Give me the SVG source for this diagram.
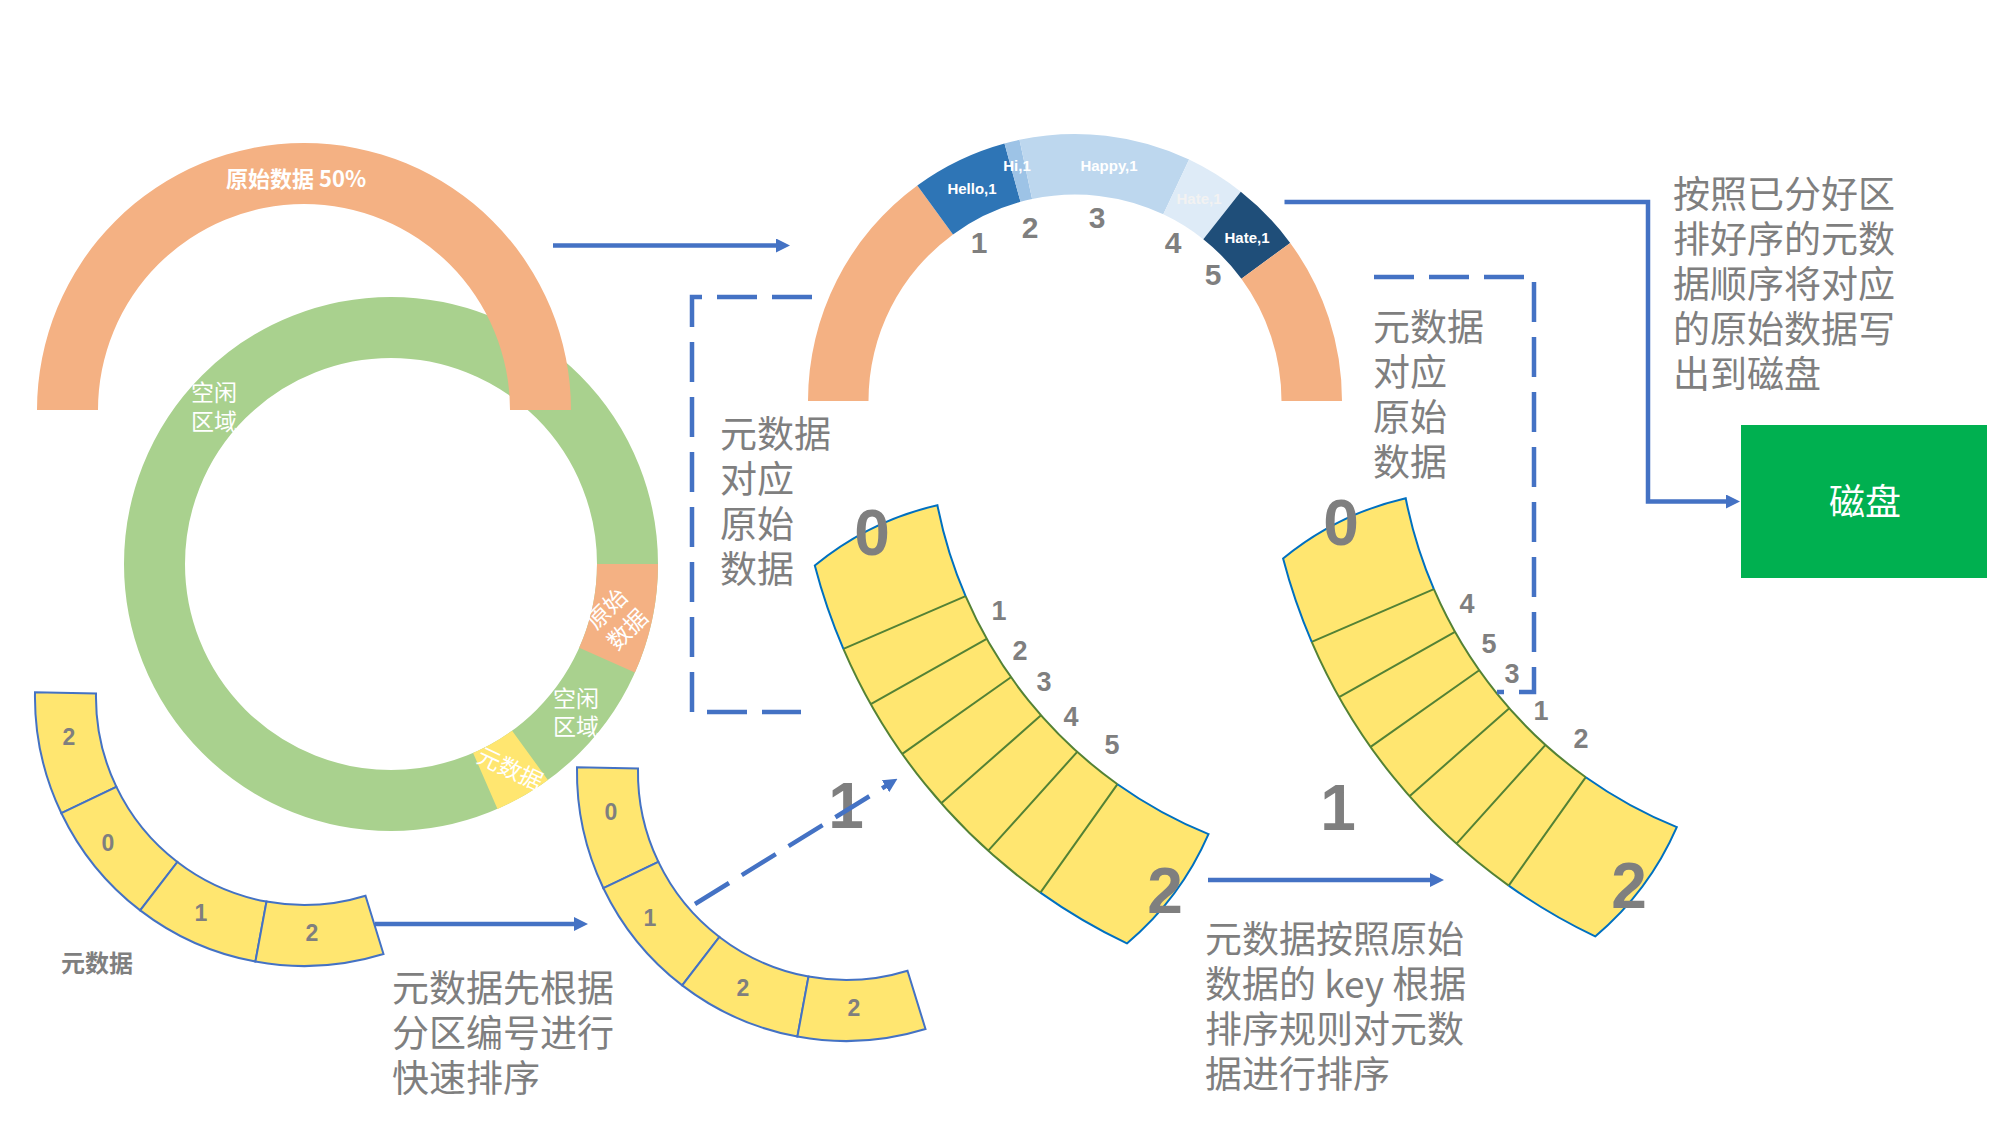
<svg xmlns="http://www.w3.org/2000/svg" width="1999" height="1126" viewBox="0 0 1999 1126">
<defs>
<style>
.note{font-family:"Noto Sans CJK SC","Noto Sans",sans-serif;font-size:37px;fill:#7F7F7F}
.wl{font-family:"Noto Sans CJK SC","Noto Sans",sans-serif;fill:#FFFFFF}
.num{font-family:"Liberation Sans",Arial,sans-serif;font-weight:bold;fill:#7F7F7F;text-anchor:middle}
.big{font-size:64px}
.mid{font-size:27px}
.sm{font-size:23px}
.top{font-size:30px}
.lbl{font-family:"Liberation Sans",Arial,sans-serif;font-weight:bold;font-size:15px;fill:#FFFFFF;text-anchor:middle}
.conn{fill:none;stroke:#4472C4;stroke-width:4.5}
.dash{stroke-dasharray:40 15}
.cell{fill:#FFE670;stroke:#4472C4;stroke-width:2}
.yfill{fill:#FFE670}
.bl{fill:none;stroke:#0070C0;stroke-width:2}
.gl{fill:none;stroke:#548235;stroke-width:2}
</style>
<marker id="ah" markerUnits="userSpaceOnUse" markerWidth="14" markerHeight="14" refX="1" refY="7" orient="auto">
<path d="M0,0 L14,7 L0,14 z" fill="#4472C4"/>
</marker>
</defs>
<rect x="0" y="0" width="1999" height="1126" fill="#FFFFFF"/>

<g id="buffer-ring">
<circle cx="391" cy="564" r="236.5" fill="none" stroke="#A9D18E" stroke-width="61"/>
<path d="M 658 564 A 267 267 0 0 1 634.9 672.6 L 579.2 647.8 A 206 206 0 0 0 597 564 Z" fill="#F4B183"/>
<path d="M 547.9 780 A 267 267 0 0 1 497.5 808.9 L 473.1 752.9 A 206 206 0 0 0 512.1 730.7 Z" fill="#FFE670"/>
<text class="wl" font-size="23"><tspan x="191" y="401">空闲</tspan><tspan x="191" y="430">区域</tspan></text>
<text class="wl" font-size="23"><tspan x="553" y="707">空闲</tspan><tspan x="553" y="735">区域</tspan></text>
<text class="wl" font-size="23" text-anchor="middle" transform="translate(617,619) rotate(-45)"><tspan x="0" y="-6">原始</tspan><tspan x="0" y="23">数据</tspan></text>
<text class="wl" font-size="23" text-anchor="middle" transform="translate(510,769) rotate(25)" y="8">元数据</text>
</g>

<g id="raw-data-arc">
<path d="M 37 410 A 267 267 0 0 1 571 410 L 510 410 A 206 206 0 0 0 98 410 Z" fill="#F4B183"/>
<text class="wl" font-size="22" font-weight="bold" text-anchor="middle" x="296" y="187">原始数据 50%</text>
</g>

<g id="kv-arc">
<path d="M 808 401 A 267 267 0 0 1 917.3 185.5 L 953.0 234.4 A 206.5 206.5 0 0 0 868.5 401 Z" fill="#F4B183"/>
<path d="M 917.3 185.5 A 267 267 0 0 1 1004.5 143.5 L 1020.5 201.8 A 206.5 206.5 0 0 0 953.0 234.4 Z" fill="#2E75B6"/>
<path d="M 1004.5 143.5 A 267 267 0 0 1 1019.5 139.8 L 1032.1 199.0 A 206.5 206.5 0 0 0 1020.5 201.8 Z" fill="#9DC3E6"/>
<path d="M 1019.5 139.8 A 267 267 0 0 1 1189.1 159.6 L 1163.3 214.3 A 206.5 206.5 0 0 0 1032.1 199.0 Z" fill="#BDD7EE"/>
<path d="M 1189.1 159.6 A 267 267 0 0 1 1240.8 191.8 L 1203.3 239.2 A 206.5 206.5 0 0 0 1163.3 214.3 Z" fill="#DEEBF7"/>
<path d="M 1240.8 191.8 A 267 267 0 0 1 1290.2 242.9 L 1241.4 278.8 A 206.5 206.5 0 0 0 1203.3 239.2 Z" fill="#1F4E79"/>
<path d="M 1290.2 242.9 A 267 267 0 0 1 1342 401 L 1281.5 401 A 206.5 206.5 0 0 0 1241.4 278.8 Z" fill="#F4B183"/>
<text class="lbl" x="972" y="194">Hello,1</text>
<text class="lbl" x="1017" y="171">Hi,1</text>
<text class="lbl" x="1109" y="171">Happy,1</text>
<text class="lbl" x="1199" y="204" fill="#F2F2F2" style="fill:#F2F2F2">Hate,1</text>
<text class="lbl" x="1247" y="243">Hate,1</text>
<text class="num top" x="979" y="253">1</text>
<text class="num top" x="1030" y="238">2</text>
<text class="num top" x="1097" y="228">3</text>
<text class="num top" x="1173" y="253">4</text>
<text class="num top" x="1213" y="285">5</text>
</g>

<g id="meta-arc-1">
<path class="cell" d="M 35.0 692.3 A 269 269 0 0 0 61.4 813.2 L 116.4 786.9 A 208 208 0 0 1 96.0 693.4 Z"/>
<path class="cell" d="M 61.4 813.2 A 269 269 0 0 0 140.2 910.4 L 177.4 862.0 A 208 208 0 0 1 116.4 786.9 Z"/>
<path class="cell" d="M 140.2 910.4 A 269 269 0 0 0 255.4 961.6 L 266.5 901.6 A 208 208 0 0 1 177.4 862.0 Z"/>
<path class="cell" d="M 255.4 961.6 A 269 269 0 0 0 383.5 954.0 L 365.5 895.7 A 208 208 0 0 1 266.5 901.6 Z"/>
<text class="num sm" x="69" y="745">2</text>
<text class="num sm" x="108" y="851">0</text>
<text class="num sm" x="201" y="921">1</text>
<text class="num sm" x="312" y="941">2</text>
<text x="97" y="972" font-family="Noto Sans CJK SC, sans-serif" font-size="24" font-weight="bold" fill="#7F7F7F" text-anchor="middle">元数据</text>
</g>

<g id="meta-arc-2" transform="translate(542,75)">
<path class="cell" d="M 35.0 692.3 A 269 269 0 0 0 61.4 813.2 L 116.4 786.9 A 208 208 0 0 1 96.0 693.4 Z"/>
<path class="cell" d="M 61.4 813.2 A 269 269 0 0 0 140.2 910.4 L 177.4 862.0 A 208 208 0 0 1 116.4 786.9 Z"/>
<path class="cell" d="M 140.2 910.4 A 269 269 0 0 0 255.4 961.6 L 266.5 901.6 A 208 208 0 0 1 177.4 862.0 Z"/>
<path class="cell" d="M 255.4 961.6 A 269 269 0 0 0 383.5 954.0 L 365.5 895.7 A 208 208 0 0 1 266.5 901.6 Z"/>
<text class="num sm" x="69" y="745">0</text>
<text class="num sm" x="108" y="851">1</text>
<text class="num sm" x="201" y="921">2</text>
<text class="num sm" x="312" y="941">2</text>
</g>

<g id="sorted-arc-1">
<path class="yfill" d="M 814.8 565.5 Q 869 521 937.4 505.2 A 448 448 0 0 0 1208.5 834.1 Q 1180.5 898.3 1126.9 943.4 A 581 581 0 0 1 814.8 565.5 Z"/>
<path class="gl" d="M 965.6 596.2 A 448 448 0 0 0 1117.5 784.2 M 843.4 648.8 A 581 581 0 0 0 1040.4 892.6 M 843.4 648.8 L 965.6 596.2 M 870.8 704.2 L 986.7 638.9 M 902.3 753.9 L 1010.9 677.2 M 941.2 803.2 L 1041 715.3 M 988.3 850.7 L 1077.2 751.9 M 1040.4 892.6 L 1117.5 784.2"/>
<path class="bl" d="M 843.4 648.8 A 581 581 0 0 1 814.8 565.5 Q 869 521 937.4 505.2 A 448 448 0 0 0 965.6 596.2"/>
<path class="bl" d="M 1117.5 784.2 A 448 448 0 0 0 1208.5 834.1 Q 1180.5 898.3 1126.9 943.4 A 581 581 0 0 1 1040.4 892.6"/>
<text class="num big" x="872" y="555">0</text>
<text class="num big" x="846" y="828">1</text>
<text class="num big" x="1165" y="913">2</text>
<text class="num mid" x="999" y="620">1</text>
<text class="num mid" x="1020" y="660">2</text>
<text class="num mid" x="1044" y="691">3</text>
<text class="num mid" x="1071" y="726">4</text>
<text class="num mid" x="1112" y="754">5</text>
</g>

<g id="sorted-arc-2">
<g transform="translate(468.3,-7)">
<path class="yfill" d="M 814.8 565.5 Q 869 521 937.4 505.2 A 448 448 0 0 0 1208.5 834.1 Q 1180.5 898.3 1126.9 943.4 A 581 581 0 0 1 814.8 565.5 Z"/>
<path class="gl" d="M 965.6 596.2 A 448 448 0 0 0 1117.5 784.2 M 843.4 648.8 A 581 581 0 0 0 1040.4 892.6 M 843.4 648.8 L 965.6 596.2 M 870.8 704.2 L 986.7 638.9 M 902.3 753.9 L 1010.9 677.2 M 941.2 803.2 L 1041 715.3 M 988.3 850.7 L 1077.2 751.9 M 1040.4 892.6 L 1117.5 784.2"/>
<path class="bl" d="M 843.4 648.8 A 581 581 0 0 1 814.8 565.5 Q 869 521 937.4 505.2 A 448 448 0 0 0 965.6 596.2"/>
<path class="bl" d="M 1117.5 784.2 A 448 448 0 0 0 1208.5 834.1 Q 1180.5 898.3 1126.9 943.4 A 581 581 0 0 1 1040.4 892.6"/>
</g>
<text class="num big" x="1341" y="545">0</text>
<text class="num big" x="1338" y="830">1</text>
<text class="num big" x="1629" y="908">2</text>
<text class="num mid" x="1467" y="613">4</text>
<text class="num mid" x="1489" y="653">5</text>
<text class="num mid" x="1512" y="683">3</text>
<text class="num mid" x="1541" y="720">1</text>
<text class="num mid" x="1581" y="748">2</text>
</g>

<g id="disk">
<rect x="1741" y="425" width="246" height="153" fill="#00B050"/>
<text class="wl" font-size="36" text-anchor="middle" x="1865" y="515">磁盘</text>
</g>

<g id="notes">
<text class="note"><tspan x="720" y="448">元数据</tspan><tspan x="720" y="493">对应</tspan><tspan x="720" y="538">原始</tspan><tspan x="720" y="583">数据</tspan></text>
<text class="note"><tspan x="1373" y="341">元数据</tspan><tspan x="1373" y="386">对应</tspan><tspan x="1373" y="431">原始</tspan><tspan x="1373" y="476">数据</tspan></text>
<text class="note"><tspan x="1673" y="208">按照已分好区</tspan><tspan x="1673" y="253">排好序的元数</tspan><tspan x="1673" y="298">据顺序将对应</tspan><tspan x="1673" y="343">的原始数据写</tspan><tspan x="1673" y="388">出到磁盘</tspan></text>
<text class="note"><tspan x="392" y="1002">元数据先根据</tspan><tspan x="392" y="1047">分区编号进行</tspan><tspan x="392" y="1092">快速排序</tspan></text>
<text class="note"><tspan x="1205" y="953">元数据按照原始</tspan><tspan x="1205" y="998">数据的 key 根据</tspan><tspan x="1205" y="1043">排序规则对元数</tspan><tspan x="1205" y="1088">据进行排序</tspan></text>
</g>

<g id="connectors">
<path class="conn" d="M 553 245.5 H 777" marker-end="url(#ah)"/>
<path class="conn" d="M 1284.5 202 H 1648 V 501.5 H 1727" marker-end="url(#ah)"/>
<path class="conn" d="M 375 924 H 575" marker-end="url(#ah)"/>
<path class="conn dash" d="M 695 904 L 886.4 785.7" marker-end="url(#ah)"/>
<path class="conn" d="M 1208 880 H 1431" marker-end="url(#ah)"/>
<path class="conn dash" d="M 812 297 H 692 V 712 H 801"/>
<path class="conn dash" d="M 1374 277 H 1534 V 692 H 1497"/>
</g>
</svg>
